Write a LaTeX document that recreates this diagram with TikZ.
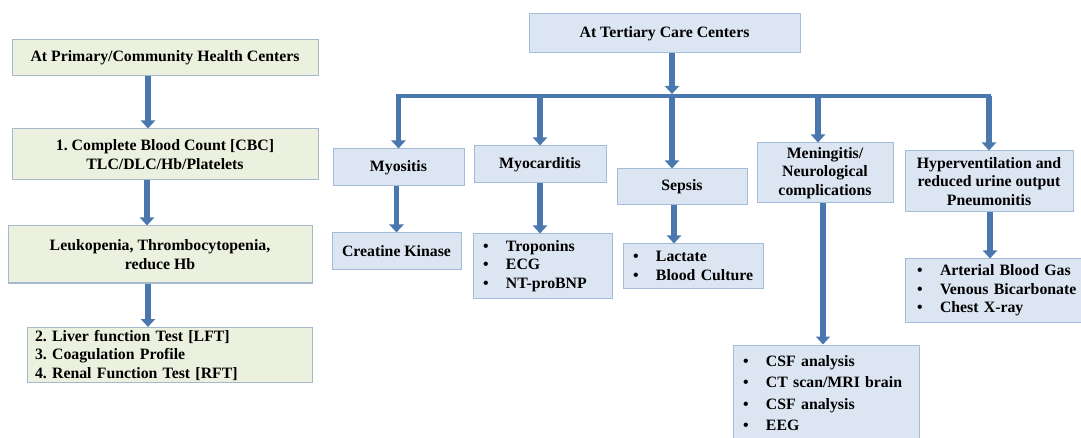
\documentclass[tikz,border=0pt]{standalone}
\usepackage{fontspec}
\setmainfont{Liberation Serif}
\usetikzlibrary{arrows.meta,calc}
\definecolor{gfill}{HTML}{EBF1DE}
\definecolor{gdraw}{HTML}{A6B8CC}
\definecolor{bfill}{HTML}{DCE6F2}
\definecolor{bdraw}{HTML}{A3BCD9}
\definecolor{arrc}{HTML}{4A78AE}
\frenchspacing
\hyphenpenalty=10000
\exhyphenpenalty=10000
\tikzset{
 box/.style={draw=bdraw, fill=bfill, line width=1pt, inner sep=0pt, font=\bfseries\fontsize{15.8}{18.5}\selectfont, align=center},
 gbox/.style={box, draw=gdraw, fill=gfill},
 lbox/.style={box, align=left, inner xsep=10pt},
 arr/.style={draw=arrc, line width=5.5pt, -{Triangle[width=14pt,length=8pt]}},
 bar/.style={draw=arrc, line width=4pt},
}
\newcommand{\li}[1]{\mbox{\makebox[23pt][l]{•}#1}}
\begin{document}
\begin{tikzpicture}[x=1pt,y=-1pt]
\useasboundingbox (0,0) rectangle (1081,438);
% left column
\node[gbox, minimum width=306pt, minimum height=36pt] (A) at (165,58) {At Primary/Community Health Centers};
\node[gbox, minimum width=306pt, minimum height=51pt] (B) at (165,154.5) {1. Complete Blood Count [CBC]\\TLC/DLC/Hb/Platelets};
\node[gbox, minimum width=304pt, minimum height=57pt] (C) at (160,254.5) {Leukopenia, Thrombocytopenia,\\reduce Hb};
\node[gbox, align=left, inner xsep=8pt, text width=269pt, minimum height=55pt] (D) at (169.5,355) {2. Liver function Test [LFT]\\3. Coagulation Profile\\4. Renal Function Test [RFT]};
\draw[arr] ([xshift=-17pt]A.south) -- ([xshift=-17pt]A.south |- B.north);
\draw[arr] ([xshift=-18pt]B.south) -- ([xshift=-18pt]B.south |- C.north);
\draw[arr] ([xshift=-12pt]C.south) -- ([xshift=-12pt]C.south |- D.north);
% right part
\node[box, minimum width=271pt, minimum height=39pt] (T) at (664.5,33.5) {At Tertiary Care Centers};
\node[box, minimum width=131pt, minimum height=37pt] (My) at (398.5,167.5) {Myositis};
\node[box, minimum width=129pt, minimum height=37pt] (CK) at (396.5,251.5) {Creatine Kinase};
\node[box, minimum width=132pt, minimum height=37pt] (Mc) at (540,164.5) {Myocarditis};
\node[lbox, text width=119pt, minimum height=64pt] (Tr) at (542.5,266) {\li{Troponins}\\\li{ECG}\\\li{NT-proBNP}};
\node[box, minimum width=130pt, minimum height=36pt] (Se) at (682,187) {Sepsis};
\node[lbox, text width=120pt, minimum height=44pt] (La) at (693,266) {\li{Lactate}\\\li{Blood Culture}};
\node[box, minimum width=136pt, minimum height=60pt] (Me) at (825,173) {Meningitis/\\Neurological\\complications};
\node[lbox, text width=166pt, minimum height=96pt, font=\bfseries\fontsize{15.8}{21.5}\selectfont] (CS) at (826,393) {\li{CSF analysis}\\\li{CT scan/MRI brain}\\\li{CSF analysis}\\\li{EEG}};
\node[box, minimum width=168pt, minimum height=61pt] (Hy) at (989,181.5) {Hyperventilation and\\reduced urine output\\Pneumonitis};
\node[lbox, inner xsep=12pt, text width=175pt, minimum height=63pt] (AB) at (1004.5,290.5) {\li{Arterial Blood Gas}\\\li{Venous Bicarbonate}\\\li{Chest X-ray}};
% connectors
\coordinate (hl) at (396,96);
\coordinate (hr) at (991,96);
\coordinate (hub) at (672,94);
\draw[bar] (hl) -- (hr);
\draw[arr] ([xshift=7.5pt]T.south) -- (hub);
\draw[arr] (My.north |- hl) -- (My.north);
\draw[arr] (Mc.north |- hl) -- (Mc.north);
\draw[arr] ([xshift=-10pt]Se.north |- hl) -- ([xshift=-10pt]Se.north);
\draw[arr] ([xshift=-7pt]Me.north |- hl) -- ([xshift=-7pt]Me.north);
\draw[arr] (Hy.north |- hl) -- (Hy.north);
\draw[arr] (My.south -| CK.north) -- (CK.north);
\draw[arr] (Mc.south) -- (Mc.south |- Tr.north);
\draw[arr] ([xshift=-8pt]Se.south) -- ([xshift=-8pt]Se.south |- La.north);
\draw[arr] ([xshift=-2pt]Me.south) -- ([xshift=-2pt]Me.south |- CS.north);
\draw[arr] ([xshift=1pt]Hy.south) -- ([xshift=1pt]Hy.south |- AB.north);
\end{tikzpicture}
\end{document}
